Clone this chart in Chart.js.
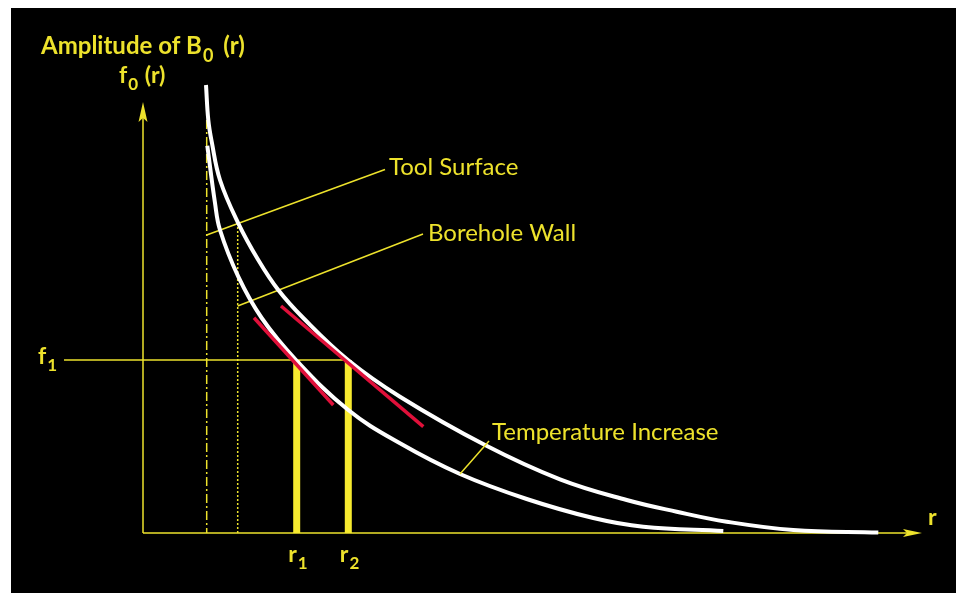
<!DOCTYPE html>
<html>
<head>
<meta charset="utf-8">
<script src="https://cdn.jsdelivr.net/npm/chart.js@4.4.1/dist/chart.umd.min.js"></script>
<style>
html, body { margin: 0; padding: 0; background: #fff; }
#wrap { position: relative; width: 956px; height: 593px; }
</style>
</head>
<body>
<div id="wrap"><canvas id="myChart"></canvas></div>
<script>
// amplitude f0(r) against radius r, both in arbitrary units
let coldR = [6.3, 6.53, 6.87, 7.7, 9.53, 11.53, 13.53, 16.03, 20.5, 25.7, 34.2, 41.7, 48.37, 53.37, 58.37, 65.03, 73.53]
let coldF = [44.8, 41.3, 39.13, 35.3, 30.97, 27.3, 24.3, 21.5, 17.3, 13.63, 8.8, 5.37, 3.3, 2.13, 1.13, 0.3, 0.05]

let hotR = [6.43, 7.2, 7.7, 9.53, 11.87, 15.3, 20.53, 25.7, 31.7, 38.37, 45.03, 50.03, 58.03]
let hotF = [38.73, 33, 30.3, 25.63, 21.5, 17.3, 12.3, 8.97, 5.9, 3.4, 1.5, 0.63, 0.2]

// tangents at f1 (red)
let tangentHotR = [11.1, 19.03]
let tangentHotF = [21.53, 12.8]
let tangentColdR = [13.8, 28.03]
let tangentColdF = [22.7, 10.63]

let f1Level = 17.3
let rMarks = [15.37, 20.53]
let rMarkLabels = ['1', '2']

let toolSurfaceR = 6.37
let boreholeWallR = 9.47

let yellow = '#ede22c'
let barYellow = '#f7ea2f'
let red = '#e0103a'

function pts(rs, fs) { return rs.map((r, i) => ({ x: r, y: fs[i] })) }

let sketch = {
    id: 'sketch',
    beforeDraw(chart) {
        let c = chart.ctx
        c.save()
        c.fillStyle = '#000'
        c.fillRect(11, 8, chart.width - 11, chart.height - 8)
        c.restore()
    },
    beforeDatasetsDraw(chart) {
        let c = chart.ctx, sx = chart.scales.x, sy = chart.scales.y
        let x0 = sx.getPixelForValue(0), y0 = sy.getPixelForValue(0)
        let yTop = sy.getPixelForValue(43.1), xEnd = sx.getPixelForValue(77.9)
        c.save()
        c.strokeStyle = yellow
        c.fillStyle = yellow
        c.lineWidth = 1.5
        c.beginPath()
        c.moveTo(x0, y0); c.lineTo(x0, yTop + 10)
        c.moveTo(x0, y0); c.lineTo(xEnd - 10, y0)
        c.stroke()
        // arrow heads
        c.beginPath()
        c.moveTo(x0, yTop); c.lineTo(x0 - 4.5, yTop + 20); c.lineTo(x0, yTop + 16); c.lineTo(x0 + 4.5, yTop + 20)
        c.closePath(); c.fill()
        c.beginPath()
        c.moveTo(xEnd, y0); c.lineTo(xEnd - 19, y0 - 4); c.lineTo(xEnd - 15, y0); c.lineTo(xEnd - 19, y0 + 4)
        c.closePath(); c.fill()
        c.restore()
    },
    afterDatasetsDraw(chart) {
        let c = chart.ctx, sx = chart.scales.x, sy = chart.scales.y
        let px = v => sx.getPixelForValue(v), py = v => sy.getPixelForValue(v)
        c.save()
        c.fillStyle = yellow
        c.textBaseline = 'alphabetic'

        function withSub(x, y, base, sub, rest, size, weight, gap) {
            c.font = weight + ' ' + size + 'px Lato'
            c.fillText(base, x, y)
            let w = c.measureText(base).width
            c.font = weight + ' ' + Math.round(size * 0.75) + 'px Lato'
            c.fillText(sub, x + w + 1, y + size * 0.32)
            let w2 = c.measureText(sub).width
            if (rest) {
                c.font = weight + ' ' + size + 'px Lato'
                c.fillText(rest, x + w + w2 + (gap || 2), y)
            }
        }

        let y0 = py(0)
        withSub(41, 54, 'Amplitude of B', '0', ' (r)', 24, 'bold', 5)
        withSub(119, 83, 'f', '0', ' (r)', 23, 'bold', 2)
        withSub(38, py(f1Level) + 3.5, 'f', '1', '', 23, 'bold')
        rMarks.forEach((r, i) => withSub(px(r) - 8.5, y0 + 28.5, 'r', rMarkLabels[i], '', 23, 'bold'))
        c.font = 'bold 23px Lato'
        c.fillText('r', px(78.5), y0 - 8)

        c.font = '24px Lato'
        c.fillText('Tool Surface', px(24.2) + 4, py(36.35) + 5)
        c.fillText('Borehole Wall', px(28) + 5, py(29.9) + 7)
        c.fillText('Temperature Increase', px(34.6) + 3, py(9.2) - 1)
        c.restore()
    }
}

let ctx = document.getElementById('myChart').getContext('2d')

let myChart = new Chart(ctx, {
    type: 'scatter',
    data: {
        datasets: [
            {
                label: 'tangent (hot)',
                data: pts(tangentHotR, tangentHotF),
                showLine: true, borderColor: red, borderWidth: 3.5, order: 1
            },
            {
                label: 'tangent (cold)',
                data: pts(tangentColdR, tangentColdF),
                showLine: true, borderColor: red, borderWidth: 3.5, order: 1
            },
            {
                label: 'f0 (r)',
                data: pts(coldR, coldF),
                showLine: true, borderColor: '#fff', borderWidth: 4,
                tension: 0.4, order: 2
            },
            {
                label: 'f0 (r), higher temperature',
                data: pts(hotR, hotF),
                showLine: true, borderColor: '#fff', borderWidth: 4,
                tension: 0.4, order: 2
            },
            {
                label: 'r1',
                data: pts([rMarks[0], rMarks[0]], [f1Level, 0]),
                showLine: true, borderColor: barYellow, borderWidth: 7, order: 3
            },
            {
                label: 'r2',
                data: pts([rMarks[1], rMarks[1]], [f1Level, 0]),
                showLine: true, borderColor: barYellow, borderWidth: 7, order: 3
            },
            {
                label: 'f1',
                data: pts([-7.9, rMarks[1]], [f1Level, f1Level]),
                showLine: true, borderColor: yellow, borderWidth: 1.5, order: 4
            },
            {
                label: 'Tool Surface',
                data: pts([toolSurfaceR, toolSurfaceR], [41.3, 0]),
                showLine: true, borderColor: yellow, borderWidth: 1.5,
                borderDash: [9, 3, 2, 3], order: 4
            },
            {
                label: 'Borehole Wall',
                data: pts([boreholeWallR, boreholeWallR], [31, 0]),
                showLine: true, borderColor: yellow, borderWidth: 1.5,
                borderDash: [2, 2], order: 4
            },
            {
                label: 'Tool Surface leader',
                data: pts([toolSurfaceR, 24.2], [29.8, 36.35]),
                showLine: true, borderColor: yellow, borderWidth: 1.5, order: 4
            },
            {
                label: 'Borehole Wall leader',
                data: pts([boreholeWallR, 28], [22.7, 29.9]),
                showLine: true, borderColor: yellow, borderWidth: 1.5, order: 4
            },
            {
                label: 'Temperature leader',
                data: pts([34.6, 31.7], [9.2, 5.9]),
                showLine: true, borderColor: yellow, borderWidth: 1.5, order: 0
            }
        ]
    },
    options: {
        responsive: true,
        maintainAspectRatio: false,
        animation: false,
        layout: { padding: 0 },
        elements: { point: { radius: 0, hoverRadius: 0 } },
        plugins: {
            legend: { display: false },
            tooltip: { enabled: false }
        },
        scales: {
            x: { type: 'linear', min: -14.3, max: 81.3, display: false },
            y: { type: 'linear', min: -6, max: 53.3, display: false }
        }
    },
    plugins: [sketch]
})
</script>
</body>
</html>
